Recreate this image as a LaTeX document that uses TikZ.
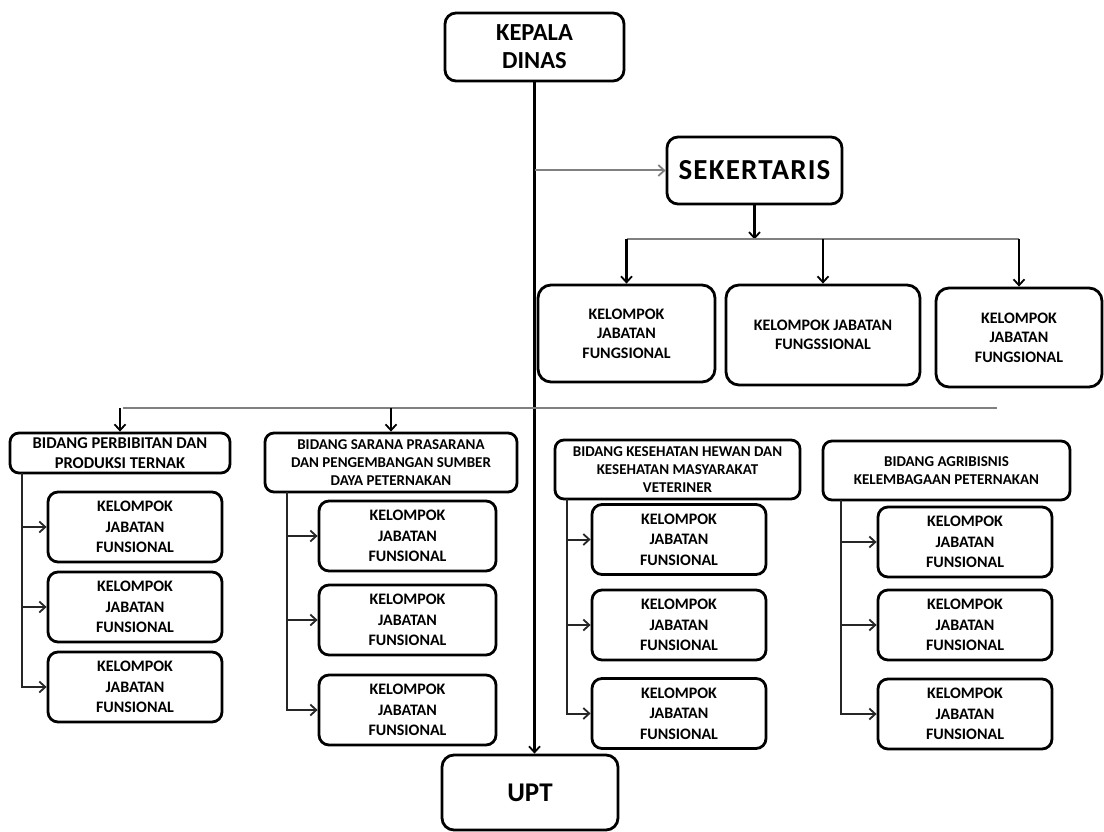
\documentclass[tikz,border=0pt]{standalone}
\usepackage{fontspec}
\setmainfont{Carlito}
\usetikzlibrary{arrows.meta,calc}
\tikzset{
  box/.style={draw=black, line width=2.8pt, rounded corners=11pt, fill=white, align=center, inner sep=2pt, font=\bfseries},
  kd/.style={box, font=\bfseries\fontsize{24.5}{28}\selectfont},
  sekbox/.style={box, font=\bfseries\fontsize{29}{32}\selectfont\addfontfeature{LetterSpace=4}},
  topk/.style={box, rounded corners=13pt, font=\bfseries\fontsize{16}{19.5}\selectfont},
  bid/.style={box, rounded corners=9pt, font=\bfseries\fontsize{15}{18}\selectfont},
  kjf/.style={box, rounded corners=10pt, minimum width=174pt, minimum height=70pt, font=\bfseries\fontsize{16}{20.5}\selectfont},
  uptbox/.style={box, rounded corners=12pt, font=\bfseries\fontsize{27}{30}\selectfont},
  tip/.style={-{Straight Barb[length=6pt,width=11pt,line width=1.8pt]}},
  mainln/.style={line width=2.1pt, black},
  grayln/.style={line width=2pt, black!50},
  subln/.style={line width=2pt, black!85},
}
\begin{document}
\begin{tikzpicture}[x=1pt,y=-1pt]
\useasboundingbox[fill=white] (0,0) rectangle (1104,832);

% top level
\node[kd, minimum width=179pt, minimum height=68pt] (kd) at (534.5,47) {KEPALA\\DINAS};
\node[sekbox, minimum width=175pt, minimum height=67pt] (sek) at (754.5,170.5) {SEKERTARIS};
\node[uptbox, minimum width=176pt, minimum height=75pt] (upt) at (530,792.5) {UPT};

% secretary groups
\node[topk, minimum width=177pt, minimum height=97pt] (ka) at (626.5,333.5) {KELOMPOK\\JABATAN\\FUNGSIONAL};
\node[topk, minimum width=194pt, minimum height=100pt] (kb) at (823,335) {KELOMPOK JABATAN\\FUNGSSIONAL};
\node[topk, minimum width=166pt, minimum height=99pt] (kc) at (1019,337.5) {KELOMPOK\\JABATAN\\FUNGSIONAL};

% bidang
\node[bid, minimum width=220pt, minimum height=40pt, font=\bfseries\fontsize{16.5}{19.5}\selectfont] (b1) at (120,453) {BIDANG PERBIBITAN DAN\\PRODUKSI TERNAK};
\node[bid, minimum width=252pt, minimum height=59pt] (b2) at (391,462.5) {BIDANG SARANA PRASARANA\\DAN PENGEMBANGAN SUMBER\\DAYA PETERNAKAN};
\node[bid, minimum width=245pt, minimum height=59pt] (b3) at (677.5,469.5) {BIDANG KESEHATAN HEWAN DAN\\KESEHATAN MASYARAKAT\\VETERINER};
\node[bid, minimum width=247pt, minimum height=59pt] (b4) at (946.5,470.5) {BIDANG AGRIBISNIS\\KELEMBAGAAN PETERNAKAN};

% kelompok jabatan fungsional under each bidang
\node[kjf] (c11) at (135,527) {KELOMPOK\\JABATAN\\FUNSIONAL};
\node[kjf] (c12) at (135,607) {KELOMPOK\\JABATAN\\FUNSIONAL};
\node[kjf] (c13) at (135,687) {KELOMPOK\\JABATAN\\FUNSIONAL};

\node[kjf, minimum width=177pt] (c21) at (407.5,536) {KELOMPOK\\JABATAN\\FUNSIONAL};
\node[kjf, minimum width=177pt] (c22) at (407.5,620) {KELOMPOK\\JABATAN\\FUNSIONAL};
\node[kjf, minimum width=177pt] (c23) at (407.5,710) {KELOMPOK\\JABATAN\\FUNSIONAL};

\node[kjf] (c31) at (679,539.5) {KELOMPOK\\JABATAN\\FUNSIONAL};
\node[kjf] (c32) at (679,625) {KELOMPOK\\JABATAN\\FUNSIONAL};
\node[kjf] (c33) at (679,713.5) {KELOMPOK\\JABATAN\\FUNSIONAL};

\node[kjf] (c41) at (965,542) {KELOMPOK\\JABATAN\\FUNSIONAL};
\node[kjf] (c42) at (965,625) {KELOMPOK\\JABATAN\\FUNSIONAL};
\node[kjf] (c43) at (965,714) {KELOMPOK\\JABATAN\\FUNSIONAL};

% main vertical line
\draw[mainln, tip] (kd.south) -- (kd.south |- upt.north);
% to secretary
\draw[grayln, tip] (kd.south |- sek.west) -- (sek.west);
% secretary branch
\coordinate (sd) at ($(sek.south)+(0,34)$);
\draw[mainln, tip] (sek.south) -- (sd);
\draw[grayln] (ka.north |- sd) -- (kc.north |- sd);
\draw[mainln, tip] (ka.north |- sd) -- (ka.north);
\draw[mainln, tip] (kb.north |- sd) -- (kb.north);
\draw[mainln, tip] (kc.north |- sd) -- (kc.north);

% long horizontal line
\coordinate (L1) at (123,408);
\coordinate (L2) at (997,408);
\draw[grayln] (L1) -- (L2);
\draw[mainln, tip] (b1.north |- L1) -- (b1.north);
\draw[mainln, tip] (b2.north |- L1) -- (b2.north);

% column connectors
\coordinate (v1) at (22,473);
\coordinate (v2) at (287,492);
\coordinate (v3) at (567,499);
\coordinate (v4) at (841,500);
\foreach \v/\c in {v1/c1, v2/c2, v3/c3, v4/c4}{
  \draw[subln, tip] (\v) |- (\c3.west);
  \draw[subln, tip] (\v |- \c1.west) -- (\c1.west);
  \draw[subln, tip] (\v |- \c2.west) -- (\c2.west);
}
\end{tikzpicture}
\end{document}
